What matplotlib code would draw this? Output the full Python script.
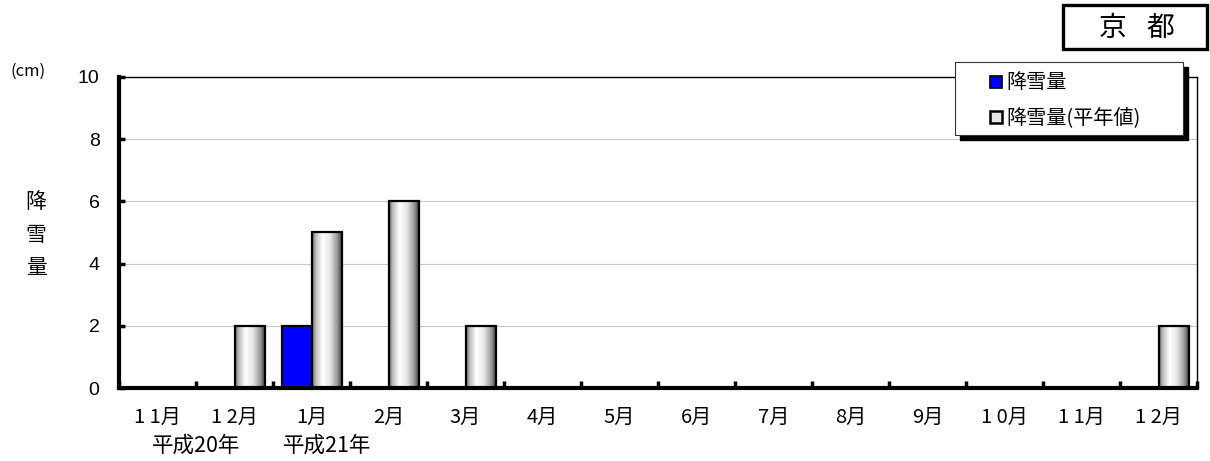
import numpy as np
import matplotlib
matplotlib.use("Agg")
import matplotlib.pyplot as plt
from matplotlib.patches import Rectangle
from matplotlib.colors import LinearSegmentedColormap

plt.rcParams['font.family'] = ['Noto Sans CJK JP', 'DejaVu Sans']

# data
months = ["1 1月", "1 2月", "1月", "2月", "3月", "4月", "5月", "6月", "7月",
          "8月", "9月", "1 0月", "1 1月", "1 2月"]
snow = [0, 0, 2, 0, 0, 0, 0, 0, 0, 0, 0, 0, 0, 0]
snow_normal = [0, 2, 5, 6, 2, 0, 0, 0, 0, 0, 0, 0, 0, 2]
yticks = [0, 2, 4, 6, 8, 10]
era_labels = [("平成20年", 1.0), ("平成21年", 2.7)]

W, H = 1210, 461
fig = plt.figure(figsize=(W / 100, H / 100), dpi=100)
ax = fig.add_axes([119 / W, 1 - 388 / H, (1197 - 119) / W, (388 - 77) / H])

n = len(months)
x = np.arange(n) + 0.5
bw = 30 / 77

grad = LinearSegmentedColormap.from_list(
    "g", [(0, "#6a6a6a"), (0.12, "#bdbdbd"), (0.35, "#ffffff"),
          (0.6, "#e6e6e6"), (0.85, "#9a9a9a"), (1, "#404040")])
gimg = np.linspace(0, 1, 64).reshape(1, -1)

ax.bar(x - bw, snow, bw, align="edge", color="#0000ff", edgecolor="black",
       linewidth=1.6, zorder=3)
bars = ax.bar(x, snow_normal, bw, align="edge", facecolor="none",
              edgecolor="black", linewidth=1.6, zorder=4)
for b in bars:
    if b.get_height() > 0:
        ax.imshow(gimg, cmap=grad, aspect="auto", zorder=3,
                  extent=(b.get_x(), b.get_x() + b.get_width(), 0, b.get_height()),
                  interpolation="bilinear")

ax.set_xlim(0, n)
ax.set_ylim(0, 10)
ax.set_yticks(yticks)
ax.set_yticklabels([str(v) for v in yticks], fontfamily="Liberation Sans",
                   fontsize=14)
ax.yaxis.grid(True, color="#c8c8c8", linewidth=0.8, zorder=0)
ax.set_axisbelow(True)

ax.set_xticks(x)
ax.set_xticklabels(months, fontsize=14.5, va="center")
ax.tick_params(axis="x", which="major", length=0, pad=21.5)
ax.set_xticks(np.arange(0, n + 1), minor=True)
ax.tick_params(axis="x", which="minor", direction="in", length=5, width=2.5)
ax.tick_params(axis="y", direction="in", length=4, width=2.5, pad=14)

ax.spines["left"].set_linewidth(3)
ax.spines["bottom"].set_linewidth(3)
ax.spines["top"].set_linewidth(1)
ax.spines["right"].set_linewidth(1)
ax.spines["left"].set_zorder(5)
ax.spines["bottom"].set_zorder(5)

for lab, xc in era_labels:
    ax.text(xc, -58 / 311, lab, transform=ax.get_xaxis_transform(),
            ha="center", va="center", fontsize=15.5)

# y label
fig.text(28 / W, 1 - 71 / H, "(cm)", fontsize=12, ha="center", va="center")
for i, ch in enumerate("降雪量"):
    fig.text(36 / W, 1 - (202 + i * 33) / H, ch, fontsize=15, ha="center",
             va="center")

# title box
fig.patches.append(Rectangle((1063 / W, 1 - 49 / H), 144 / W, 44 / H,
                             transform=fig.transFigure, facecolor="white",
                             edgecolor="black", linewidth=2.4))
fig.text(1113 / W, 1 - 27.5 / H, "京", fontsize=20, ha="center", va="center")
fig.text(1160 / W, 1 - 27.5 / H, "都", fontsize=20, ha="center", va="center")

# legend
lx0, lx1, ly0, ly1 = 955, 1183, 62, 135
fig.patches.append(Rectangle(((lx0 + 5) / W, 1 - (ly1 + 5) / H),
                             (lx1 - lx0) / W, (ly1 - ly0) / H,
                             transform=fig.transFigure, facecolor="black",
                             edgecolor="black", zorder=10))
fig.patches.append(Rectangle((lx0 / W, 1 - ly1 / H), (lx1 - lx0) / W,
                             (ly1 - ly0) / H, transform=fig.transFigure,
                             facecolor="white", edgecolor="#333333",
                             linewidth=0.8, zorder=11))
fig.patches.append(Rectangle((990 / W, 1 - 88 / H), 12 / W, 12 / H,
                             transform=fig.transFigure, facecolor="#0000ff",
                             edgecolor="black", linewidth=1.2, zorder=12))
fig.patches.append(Rectangle((990 / W, 1 - 123 / H), 12 / W, 12 / H,
                             transform=fig.transFigure, facecolor="#e8e8e8",
                             edgecolor="black", linewidth=1.8, zorder=12))
fig.text(1006 / W, 1 - 83 / H, "降雪量", fontsize=14.5, va="center", zorder=13)
fig.text(1006 / W, 1 - 118 / H, "降雪量(平年値)", fontsize=14.5, va="center",
         zorder=13)

fig.savefig("out.png", dpi=100)
